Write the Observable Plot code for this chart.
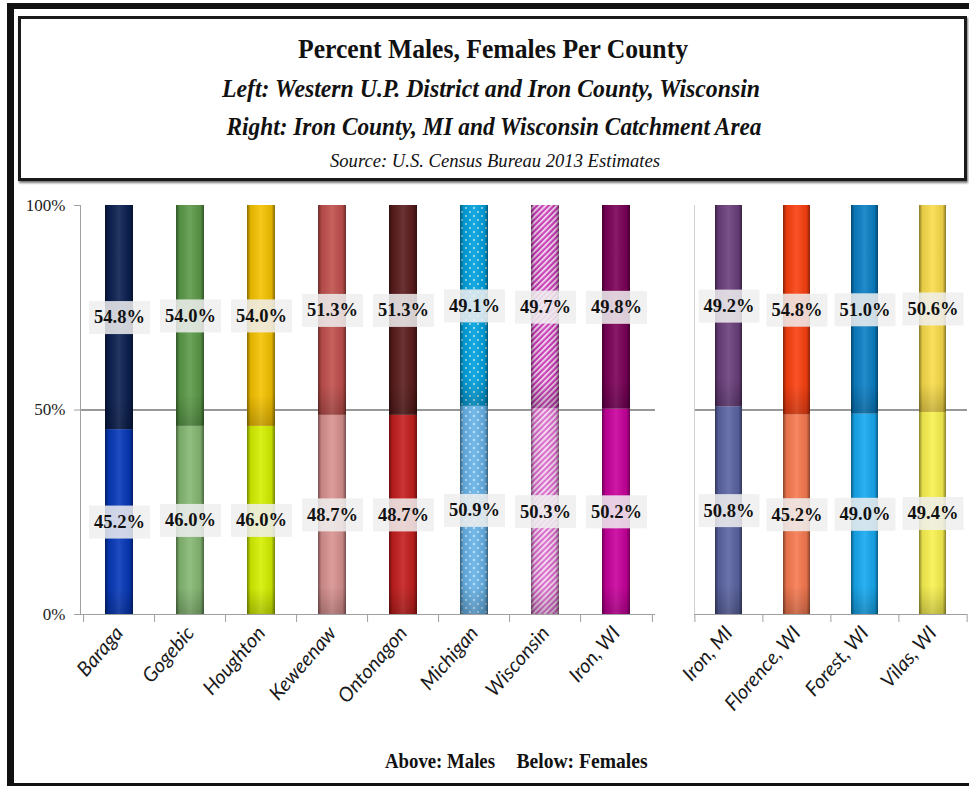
<!DOCTYPE html>
<html><head><meta charset="utf-8">
<script src="https://cdn.jsdelivr.net/npm/d3@7"></script>
<script src="https://cdn.jsdelivr.net/npm/@observablehq/plot@0.6"></script>
<style>
html,body{margin:0;padding:0;background:#fff;overflow:hidden;width:969px;height:786px;}
#frame{position:absolute;left:7px;top:3px;width:1000px;height:774px;border-left:7px solid #111;border-top:6px solid #111;border-bottom:5px solid #111;}
#titlebox{position:absolute;left:18px;top:16px;width:943px;height:159px;border:3px solid #1a1a1a;box-shadow:1px 2px 2px #777;background:#fff;}
#left{position:absolute;left:0;top:190px;}
#right{position:absolute;left:660px;top:190px;}
#texts{position:absolute;left:0;top:0;}
</style></head><body>
<svg width="0" height="0" style="position:absolute"><defs>
<linearGradient id="shadeH" x1="0" x2="1" y1="0" y2="0">
 <stop offset="0" stop-color="#000" stop-opacity="0.45"/>
 <stop offset="0.13" stop-color="#000" stop-opacity="0.08"/>
 <stop offset="0.5" stop-color="#fff" stop-opacity="0.1"/>
 <stop offset="0.87" stop-color="#000" stop-opacity="0.08"/>
 <stop offset="1" stop-color="#000" stop-opacity="0.45"/>
</linearGradient>
<linearGradient id="shadeV" x1="0" x2="0" y1="0" y2="1">
 <stop offset="0" stop-color="#000" stop-opacity="0"/>
 <stop offset="0.86" stop-color="#000" stop-opacity="0"/>
 <stop offset="1" stop-color="#000" stop-opacity="0.2"/>
</linearGradient>
<pattern id="dotsM" width="8" height="8" patternUnits="userSpaceOnUse">
 <rect width="8" height="8" fill="#00a1de"/>
 <circle cx="2" cy="2" r="0.9" fill="#fff" fill-opacity="0.8"/>
 <circle cx="6" cy="6" r="0.9" fill="#fff" fill-opacity="0.8"/>
</pattern>
<pattern id="dotsF" width="8" height="8" patternUnits="userSpaceOnUse">
 <rect width="8" height="8" fill="#66b3e8"/>
 <circle cx="2" cy="2" r="0.9" fill="#fff" fill-opacity="0.8"/>
 <circle cx="6" cy="6" r="0.9" fill="#fff" fill-opacity="0.8"/>
</pattern>
<pattern id="stripesM" width="4" height="4" patternUnits="userSpaceOnUse" patternTransform="rotate(45)">
 <rect width="4" height="4" fill="#c936b6"/>
 <rect width="1.6" height="4" fill="#fff" fill-opacity="0.9"/>
</pattern>
<pattern id="stripesF" width="4" height="4" patternUnits="userSpaceOnUse" patternTransform="rotate(45)">
 <rect width="4" height="4" fill="#dc66cc"/>
 <rect width="1.6" height="4" fill="#fff" fill-opacity="0.9"/>
</pattern>
</defs></svg>
<div id="frame"></div>
<div id="titlebox"></div>
<div id="left"></div>
<div id="right"></div>
<svg id="texts" width="969" height="786" font-family="Liberation Serif" fill="#111">
 <text x="493" y="58" text-anchor="middle" font-weight="bold" font-size="28" textLength="390" lengthAdjust="spacingAndGlyphs">Percent Males, Females Per County</text>
 <text x="491" y="97" text-anchor="middle" font-weight="bold" font-style="italic" font-size="25" textLength="538" lengthAdjust="spacingAndGlyphs">Left: Western U.P. District and Iron County, Wisconsin</text>
 <text x="494" y="135" text-anchor="middle" font-weight="bold" font-style="italic" font-size="25" textLength="535" lengthAdjust="spacingAndGlyphs">Right: Iron County, MI and Wisconsin Catchment Area</text>
 <text x="495" y="167" text-anchor="middle" font-style="italic" font-size="19" textLength="330" lengthAdjust="spacingAndGlyphs">Source: U.S. Census Bureau 2013 Estimates</text>
 <text x="440" y="768" text-anchor="middle" font-weight="bold" font-size="22" textLength="110" lengthAdjust="spacingAndGlyphs">Above: Males</text>
 <text x="582" y="768" text-anchor="middle" font-weight="bold" font-size="22" textLength="131" lengthAdjust="spacingAndGlyphs">Below: Females</text>
</svg>
<script>
// ---- data ----
const categoriesLeft = ["Baraga","Gogebic","Houghton","Keweenaw","Ontonagon","Michigan","Wisconsin","Iron, WI"];
const malesLeft   = [54.8, 54.0, 54.0, 51.3, 51.3, 49.1, 49.7, 49.8];
const femalesLeft = [45.2, 46.0, 46.0, 48.7, 48.7, 50.9, 50.3, 50.2];
const femaleBarLeft = [45.2, 46.0, 46.0, 48.7, 48.7, 50.9, 50.3, 50.2];

const categoriesRight = ["Iron, MI","Florence, WI","Forest, WI","Vilas, WI"];
const malesRight   = [49.2, 54.8, 51.0, 50.6];
const femalesRight = [50.8, 45.2, 49.0, 49.4];
// bar split as drawn in the picture (Florence's drawn split differs from its label)
const femaleBarRight = [50.8, 48.8, 49.0, 49.4];

const maleColorsLeft   = ["#0b1f50","#5b9a48","#f5c200","#c0504d","#5a1c1c","url(#dotsM)","url(#stripesM)","#7a0058"];
const femaleColorsLeft = ["#0638b8","#85b873","#d4f000","#d89290","#c41e1e","url(#dotsF)","url(#stripesF)","#c8009c"];
const maleColorsRight   = ["#6b3f7d","#fa4010","#0a7ec4","#f9dc4a"];
const femaleColorsRight = ["#5a64a2","#f77a50","#16a9f0","#f9f250"];

const yTicks = [0, 50, 100];

function rows(cats, males, females, femBar, colM, colF) {
  const out = [];
  cats.forEach((c, i) => {
    out.push({cat: c, sex: "Female", bar: femBar[i], label: females[i].toFixed(1) + "%", color: colF[i]});
    out.push({cat: c, sex: "Male", bar: 100 - femBar[i], label: males[i].toFixed(1) + "%", color: colM[i]});
  });
  return out;
}

function boxedLabels(data) {
  return Plot.text(data, Plot.stackY({
    x: "cat", y: "bar", z: "sex", text: "label",
    fontSize: 18.5, fontWeight: "bold", fontFamily: "Liberation Serif", fill: "#111",
    render(index, scales, values, dimensions, context, next) {
      const g = next(index, scales, values, dimensions, context);
      const ns = "http://www.w3.org/2000/svg";
      for (const i of index) {
        const r = document.createElementNS(ns, "rect");
        r.setAttribute("x", values.x[i] - 30.5);
        r.setAttribute("y", values.y[i] - 16.5);
        r.setAttribute("width", 61);
        r.setAttribute("height", 33);
        r.setAttribute("fill", "#efefef");
        r.setAttribute("fill-opacity", 0.86);
        r.setAttribute("stroke", "none");
        g.insertBefore(r, g.firstChild);
      }
      return g;
    }
  }));
}

function panel({cats, data, width, marginLeft, marginRight, showY, frameColor}) {
  const step = (width - marginLeft - marginRight) / cats.length;
  const marks = [
    Plot.ruleY([50], {stroke: "#333", strokeWidth: 1.2}),
    Plot.barY(data, Plot.stackY({x: "cat", y: "bar", z: "sex", fill: "color"})),
    Plot.barY(data, Plot.stackY({x: "cat", y: "bar", z: "sex", fill: () => "url(#shadeV)"})),
    Plot.barY(data, Plot.stackY({x: "cat", y: "bar", z: "sex", fill: () => "url(#shadeH)"})),
    Plot.frame({anchor: "left", stroke: frameColor}),
    Plot.ruleY([0], {stroke: "#a0a0a0", strokeWidth: 1.2}),
    Plot.axisX({tickSize: 8, tickFormat: () => "", dx: -step / 2, stroke: "#a0a0a0"}),
    Plot.axisX([cats[cats.length - 1]], {tickSize: 8, tickFormat: () => "", dx: step / 2, stroke: "#a0a0a0"}),
    Plot.axisX({tickSize: 0, tickPadding: 15, tickRotate: -49, fontSize: 20, fontStyle: "italic",
      fontFamily: "Lato", fill: "#1a1a1a"}),
    boxedLabels(data)
  ];
  if (showY) {
    marks.push(Plot.axisY({ticks: yTicks, tickFormat: d => d + "%", tickSize: 6, tickPadding: 9,
      fontSize: 17, fontFamily: "Liberation Serif", stroke: "#a0a0a0", fill: "#222"}));
  }
  return Plot.plot({
    width, height: 540, marginLeft, marginRight, marginTop: 15, marginBottom: 116,
    x: {domain: cats, paddingInner: 0.6, paddingOuter: 0.3, label: null},
    y: {domain: [0, 100], label: null, axis: showY ? undefined : null},
    color: {type: "identity"},
    style: {background: "transparent", overflow: "visible", fontFamily: "Liberation Serif"},
    marks
  });
}

document.getElementById("left").append(panel({
  cats: categoriesLeft,
  data: rows(categoriesLeft, malesLeft, femalesLeft, femaleBarLeft, maleColorsLeft, femaleColorsLeft),
  width: 660, marginLeft: 80, marginRight: 5, showY: true, frameColor: "#a0a0a0"
}));
document.getElementById("right").append(panel({
  cats: categoriesRight,
  data: rows(categoriesRight, malesRight, femalesRight, femaleBarRight, maleColorsRight, femaleColorsRight),
  width: 309, marginLeft: 34, marginRight: 2, showY: false, frameColor: "#d0d0d0"
}));
</script>
</body></html>
